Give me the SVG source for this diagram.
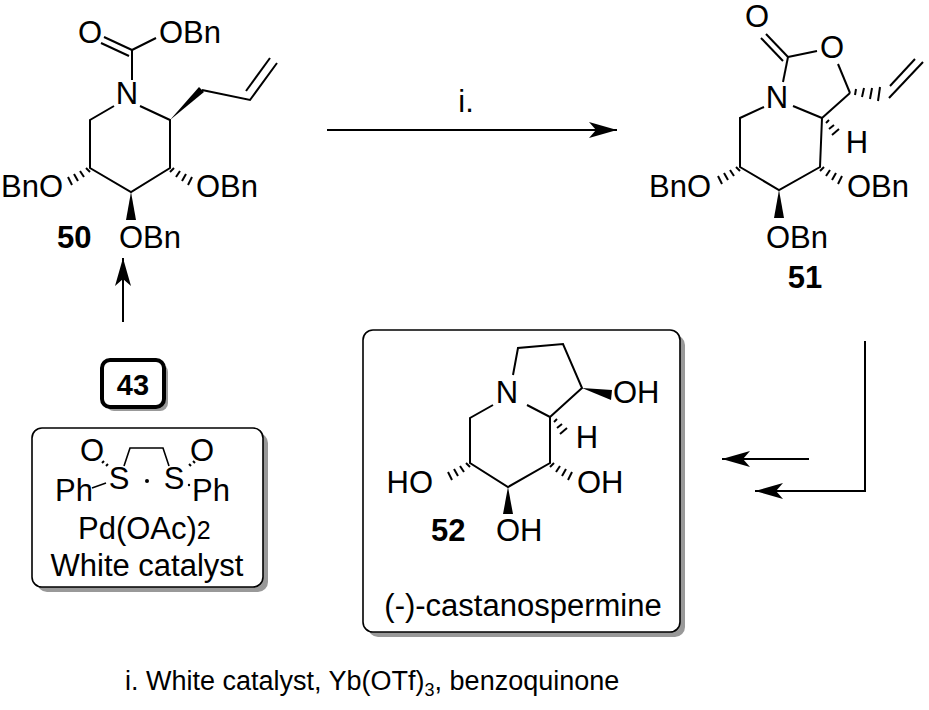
<svg xmlns="http://www.w3.org/2000/svg" width="929" height="710" viewBox="0 0 929 710">
<style>
text{font-family:"Liberation Sans",Arial,sans-serif;font-size:31px;fill:#000}
.b{font-weight:bold}
line,polyline,path.s{stroke:#000;stroke-width:2;fill:none}
.h{stroke:#000;stroke-width:1.6}
.w{fill:#000;stroke:none}
.box{fill:#fff;stroke:#000;stroke-width:1.6}
.sh{fill:#999;stroke:none}
</style>
<defs>
<marker id="ah" viewBox="0 0 28 16" refX="28" refY="8" markerWidth="28" markerHeight="16" markerUnits="userSpaceOnUse" orient="auto"><path d="M0,0 L28,8 L0,16 L7,8 Z" fill="#000"/></marker>
</defs>

<g id="connectors">
<line x1="327" y1="130" x2="617" y2="130" marker-end="url(#ah)"/>
<line x1="123" y1="322" x2="123" y2="258" marker-end="url(#ah)"/>
<polyline points="865,341 865,491 755,491" marker-end="url(#ah)"/>
<line x1="809" y1="459" x2="722" y2="459" marker-end="url(#ah)"/>
<text x="466" y="112" text-anchor="middle">i.</text>
</g>

<g id="c50">
<text x="90" y="43" text-anchor="middle">O</text>
<text x="159" y="43">OBn</text>
<line x1="132" y1="50" x2="104" y2="37"/><line x1="129" y1="56" x2="101" y2="43"/>
<line x1="132" y1="50" x2="156" y2="38"/>
<line x1="132" y1="50" x2="132" y2="80"/>
<text x="127" y="104" text-anchor="middle">N</text>
<polyline points="114,106 90,120 90,168 131,192 170,168 170,120 140,106"/>
<path class="w" d="M170,120 L199,87 L204,92 Z"/>
<polyline points="202,90 250,100 277,63"/>
<line x1="246" y1="91" x2="270" y2="58"/>
<g class="h"><line x1="86" y1="168" x2="90" y2="172"/><line x1="80" y1="171" x2="84" y2="177"/><line x1="74" y1="174" x2="78" y2="181"/><line x1="68" y1="177" x2="72" y2="185"/></g>
<text x="63" y="197" text-anchor="end">BnO</text>
<g class="h"><line x1="174" y1="168" x2="170" y2="172"/><line x1="180" y1="171" x2="176" y2="177"/><line x1="186" y1="174" x2="182" y2="181"/><line x1="192" y1="177" x2="188" y2="185"/></g>
<text x="196" y="197">OBn</text>
<path class="w" d="M131,192 L126,220 L136,220 Z"/>
<text x="119" y="248">OBn</text>
<text x="57" y="248" class="b">50</text>
</g>

<g id="c51">
<text x="757" y="27" text-anchor="middle">O</text>
<line x1="788" y1="57" x2="766" y2="34"/><line x1="783" y1="61" x2="761" y2="38"/>
<line x1="788" y1="57" x2="817" y2="51"/>
<text x="832" y="58" text-anchor="middle">O</text>
<line x1="838" y1="64" x2="850" y2="93"/>
<line x1="788" y1="57" x2="783" y2="82"/>
<text x="777" y="108" text-anchor="middle">N</text>
<line x1="793" y1="106" x2="822" y2="118"/>
<line x1="822" y1="118" x2="850" y2="93"/>
<g class="h"><line x1="856" y1="89" x2="855" y2="95"/><line x1="864" y1="88" x2="862" y2="97"/><line x1="872" y1="88" x2="870" y2="99"/><line x1="880" y1="87" x2="878" y2="101"/></g>
<line x1="889" y1="98" x2="923" y2="62"/><line x1="890" y1="86" x2="915" y2="59"/>
<g class="h"><line x1="826" y1="123" x2="829" y2="120"/><line x1="829" y1="129" x2="834" y2="125"/><line x1="832" y1="135" x2="839" y2="129"/></g>
<text x="857" y="153" text-anchor="middle">H</text>
<polyline points="764,107 740,118 740,167 779,190 820,167 822,118"/>
<g class="h"><line x1="736" y1="167" x2="740" y2="171"/><line x1="730" y1="170" x2="734" y2="176"/><line x1="724" y1="173" x2="728" y2="180"/><line x1="718" y1="176" x2="722" y2="184"/></g>
<text x="711" y="197" text-anchor="end">BnO</text>
<g class="h"><line x1="824" y1="167" x2="820" y2="171"/><line x1="830" y1="170" x2="826" y2="176"/><line x1="836" y1="173" x2="832" y2="180"/><line x1="842" y1="176" x2="838" y2="184"/></g>
<text x="847" y="197">OBn</text>
<path class="w" d="M779,190 L774,218 L784,218 Z"/>
<text x="766" y="248">OBn</text>
<text x="805" y="288" text-anchor="middle" class="b">51</text>
</g>

<g id="c52">
<rect class="sh" x="368" y="335" width="317" height="302" rx="10"/>
<rect class="box" x="363" y="330" width="317" height="302" rx="10"/>
<text x="507" y="403" text-anchor="middle">N</text>
<polyline points="513,375 518,348 563,344 582,388 550,417 527,405"/>
<path class="w" d="M582,388 L612,390 L611,400 Z"/>
<text x="613" y="403">OH</text>
<g class="h"><line x1="554" y1="422" x2="557" y2="419"/><line x1="557" y1="428" x2="562" y2="424"/><line x1="560" y1="434" x2="567" y2="428"/></g>
<text x="587" y="448" text-anchor="middle">H</text>
<polyline points="493,405 470,418 470,463 508,487 550,463 550,417"/>
<g class="h"><line x1="466" y1="463" x2="470" y2="467"/><line x1="460" y1="466" x2="464" y2="472"/><line x1="454" y1="469" x2="458" y2="476"/><line x1="448" y1="472" x2="452" y2="480"/></g>
<text x="433" y="493" text-anchor="end">HO</text>
<g class="h"><line x1="554" y1="463" x2="550" y2="467"/><line x1="560" y1="466" x2="556" y2="472"/><line x1="566" y1="469" x2="562" y2="476"/><line x1="572" y1="472" x2="568" y2="480"/></g>
<text x="577" y="493">OH</text>
<path class="w" d="M508,487 L503,514 L513,514 Z"/>
<text x="496" y="541">OH</text>
<text x="431" y="541" class="b">52</text>
<text x="523" y="616" text-anchor="middle">(-)-castanospermine</text>
</g>

<g id="n43">
<rect class="sh" x="106" y="364" width="62" height="47" rx="8"/>
<rect x="102" y="360" width="62" height="47" rx="8" fill="#fff" stroke="#000" stroke-width="4"/>
<text x="133" y="395" text-anchor="middle" class="b" style="font-size:29px">43</text>
</g>

<g id="catalyst">
<rect class="sh" x="37" y="433" width="231" height="159" rx="10"/>
<rect class="box" x="32" y="428" width="231" height="159" rx="10"/>
<text x="92" y="461" text-anchor="middle">O</text>
<text x="202" y="461" text-anchor="middle">O</text>
<text x="119" y="489" text-anchor="middle">S</text>
<text x="174" y="489" text-anchor="middle">S</text>
<text x="55" y="501">Ph</text>
<text x="192" y="501">Ph</text>
<polyline points="124,466 130,448 163,448 169,466" style="stroke-width:1.6"/>
<g class="h"><line x1="102" y1="463" x2="104" y2="461"/><line x1="106" y1="466" x2="108" y2="464"/><line x1="193" y1="461" x2="195" y2="463"/><line x1="189" y1="464" x2="191" y2="466"/></g>
<line x1="92" y1="488" x2="106" y2="483" style="stroke-width:1.4"/>
<circle cx="147" cy="481" r="2" fill="#000"/>
<circle cx="189" cy="485" r="1.2" fill="#000"/>
<text x="78" y="539">Pd(OAc)<tspan style="font-size:25px">2</tspan></text>
<text x="147" y="576" text-anchor="middle">White catalyst</text>
</g>

<text x="125" y="690" style="font-size:27px">i. White catalyst, Yb(OTf)<tspan style="font-size:18px" dy="6">3</tspan><tspan dy="-6">, benzoquinone</tspan></text>
</svg>
